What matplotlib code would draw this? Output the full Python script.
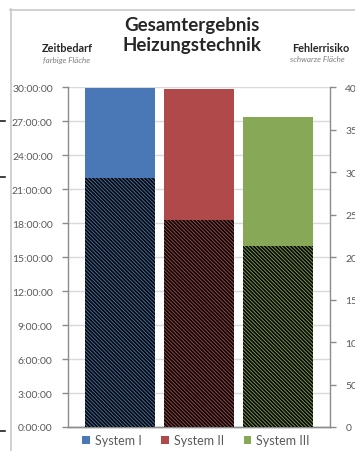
import matplotlib
matplotlib.use("Agg")
import matplotlib.pyplot as plt
from matplotlib.lines import Line2D
from matplotlib.patches import Patch
import numpy as np

plt.rcParams['font.family'] = ['Lato', 'DejaVu Sans']
plt.rcParams['hatch.linewidth'] = 1.3

# Data
systems = ["System I", "System II", "System III"]
zeitbedarf_h = [29.92, 29.86, 27.36]        # time needed, hours (coloured area)
fehlerrisiko = [2930, 2440, 2135]           # error risk (black hatched area)
colors = ["#4a78b6", "#b04a4a", "#86a857"]
left_ticks_h = list(range(0, 31, 3))
right_ticks = list(range(0, 4001, 500))

W, H = 355, 452
fig = plt.figure(figsize=(W / 100, H / 100), dpi=100)
fig.patch.set_facecolor("white")

ax = fig.add_axes([68 / W, 1 - 428 / H, (330 - 68) / W, (428 - 88.3) / H])
ax2 = ax.twinx()

x = np.arange(len(systems))
bw = 0.89
ax.bar(x, zeitbedarf_h, width=bw, color=colors, linewidth=0, zorder=2)
ax2.bar(x, fehlerrisiko, width=bw, facecolor="none", edgecolor="#0a0a0a",
        linewidth=0, hatch="\\" * 9, zorder=3)

grid_c = "#d9d9d9"
axis_c = "#8c8c8c"
label_c = "#595959"

ax.set_xlim(-0.66, 2.66)
ax.set_ylim(0, 30)
ax.set_yticks(left_ticks_h)
ax.set_yticklabels([f"{h}:00:00" for h in left_ticks_h], fontsize=7.5, color=label_c)
ax.set_xticks([])
ax.yaxis.grid(True, color=grid_c, linewidth=1.0, zorder=0)
ax.set_axisbelow(True)
ax.tick_params(axis="y", length=4, width=1, color=axis_c, pad=7)

ax2.set_ylim(0, 4000)
ax2.set_yticks(right_ticks)
ax2.set_yticklabels([str(v) for v in right_ticks], fontsize=7.5, color=label_c)
ax2.tick_params(axis="y", length=4, width=1, color=axis_c, pad=7)

for a in (ax, ax2):
    a.spines["top"].set_visible(False)
    for s in ("left", "right", "bottom"):
        a.spines[s].set_color(axis_c)
        a.spines[s].set_linewidth(1.0)
ax.spines["right"].set_visible(False)
ax2.spines["left"].set_visible(False)

# Titles and axis captions
fig.text(192 / W, 1 - 25 / H, "Gesamtergebnis", ha="center", va="center",
         fontsize=13.5, fontweight="bold", color="#262626")
fig.text(192 / W, 1 - 46 / H, "Heizungstechnik", ha="center", va="center",
         fontsize=13.5, fontweight="bold", color="#262626")
fig.text(67 / W, 1 - 49 / H, "Zeitbedarf", ha="center", va="center",
         fontsize=7.8, fontweight="bold", color="#262626")
fig.text(67 / W, 1 - 60 / H, "farbige Fläche", ha="center", va="center",
         fontsize=5.8, style="italic", color="#7f7f7f")
fig.text(292 / W, 1 - 49 / H, "Fehlerrisiko", ha="left", va="center",
         fontsize=7.8, fontweight="bold", color="#262626")
fig.text(290 / W, 1 - 60 / H, "schwarze Fläche", ha="left", va="center",
         fontsize=5.8, style="italic", color="#7f7f7f")

# Legend
handles = [Patch(facecolor=c, edgecolor="none") for c in colors]
fig.legend(handles, systems, loc="center", bbox_to_anchor=(196 / W, 1 - 441 / H),
           ncol=3, frameon=False, fontsize=9, handlelength=0.6, handleheight=0.6,
           handletextpad=0.4, columnspacing=1.6, labelcolor=label_c)

# Chart frame
fig.add_artist(Line2D([10.5 / W, 10.5 / W], [1 - 10 / H, 0], transform=fig.transFigure,
                      color="#c8c8c8", linewidth=1.2))
fig.add_artist(Line2D([10 / W, 1], [1 - 10.5 / H, 1 - 10.5 / H], transform=fig.transFigure,
                      color="#c8c8c8", linewidth=1.2))

# small marks at the left edge
for yy in (122, 178, 432):
    fig.add_artist(Line2D([0, 4.5 / W], [1 - yy / H, 1 - yy / H], transform=fig.transFigure,
                          color="#202020", linewidth=1.2))

fig.savefig("out.png", dpi=100)
